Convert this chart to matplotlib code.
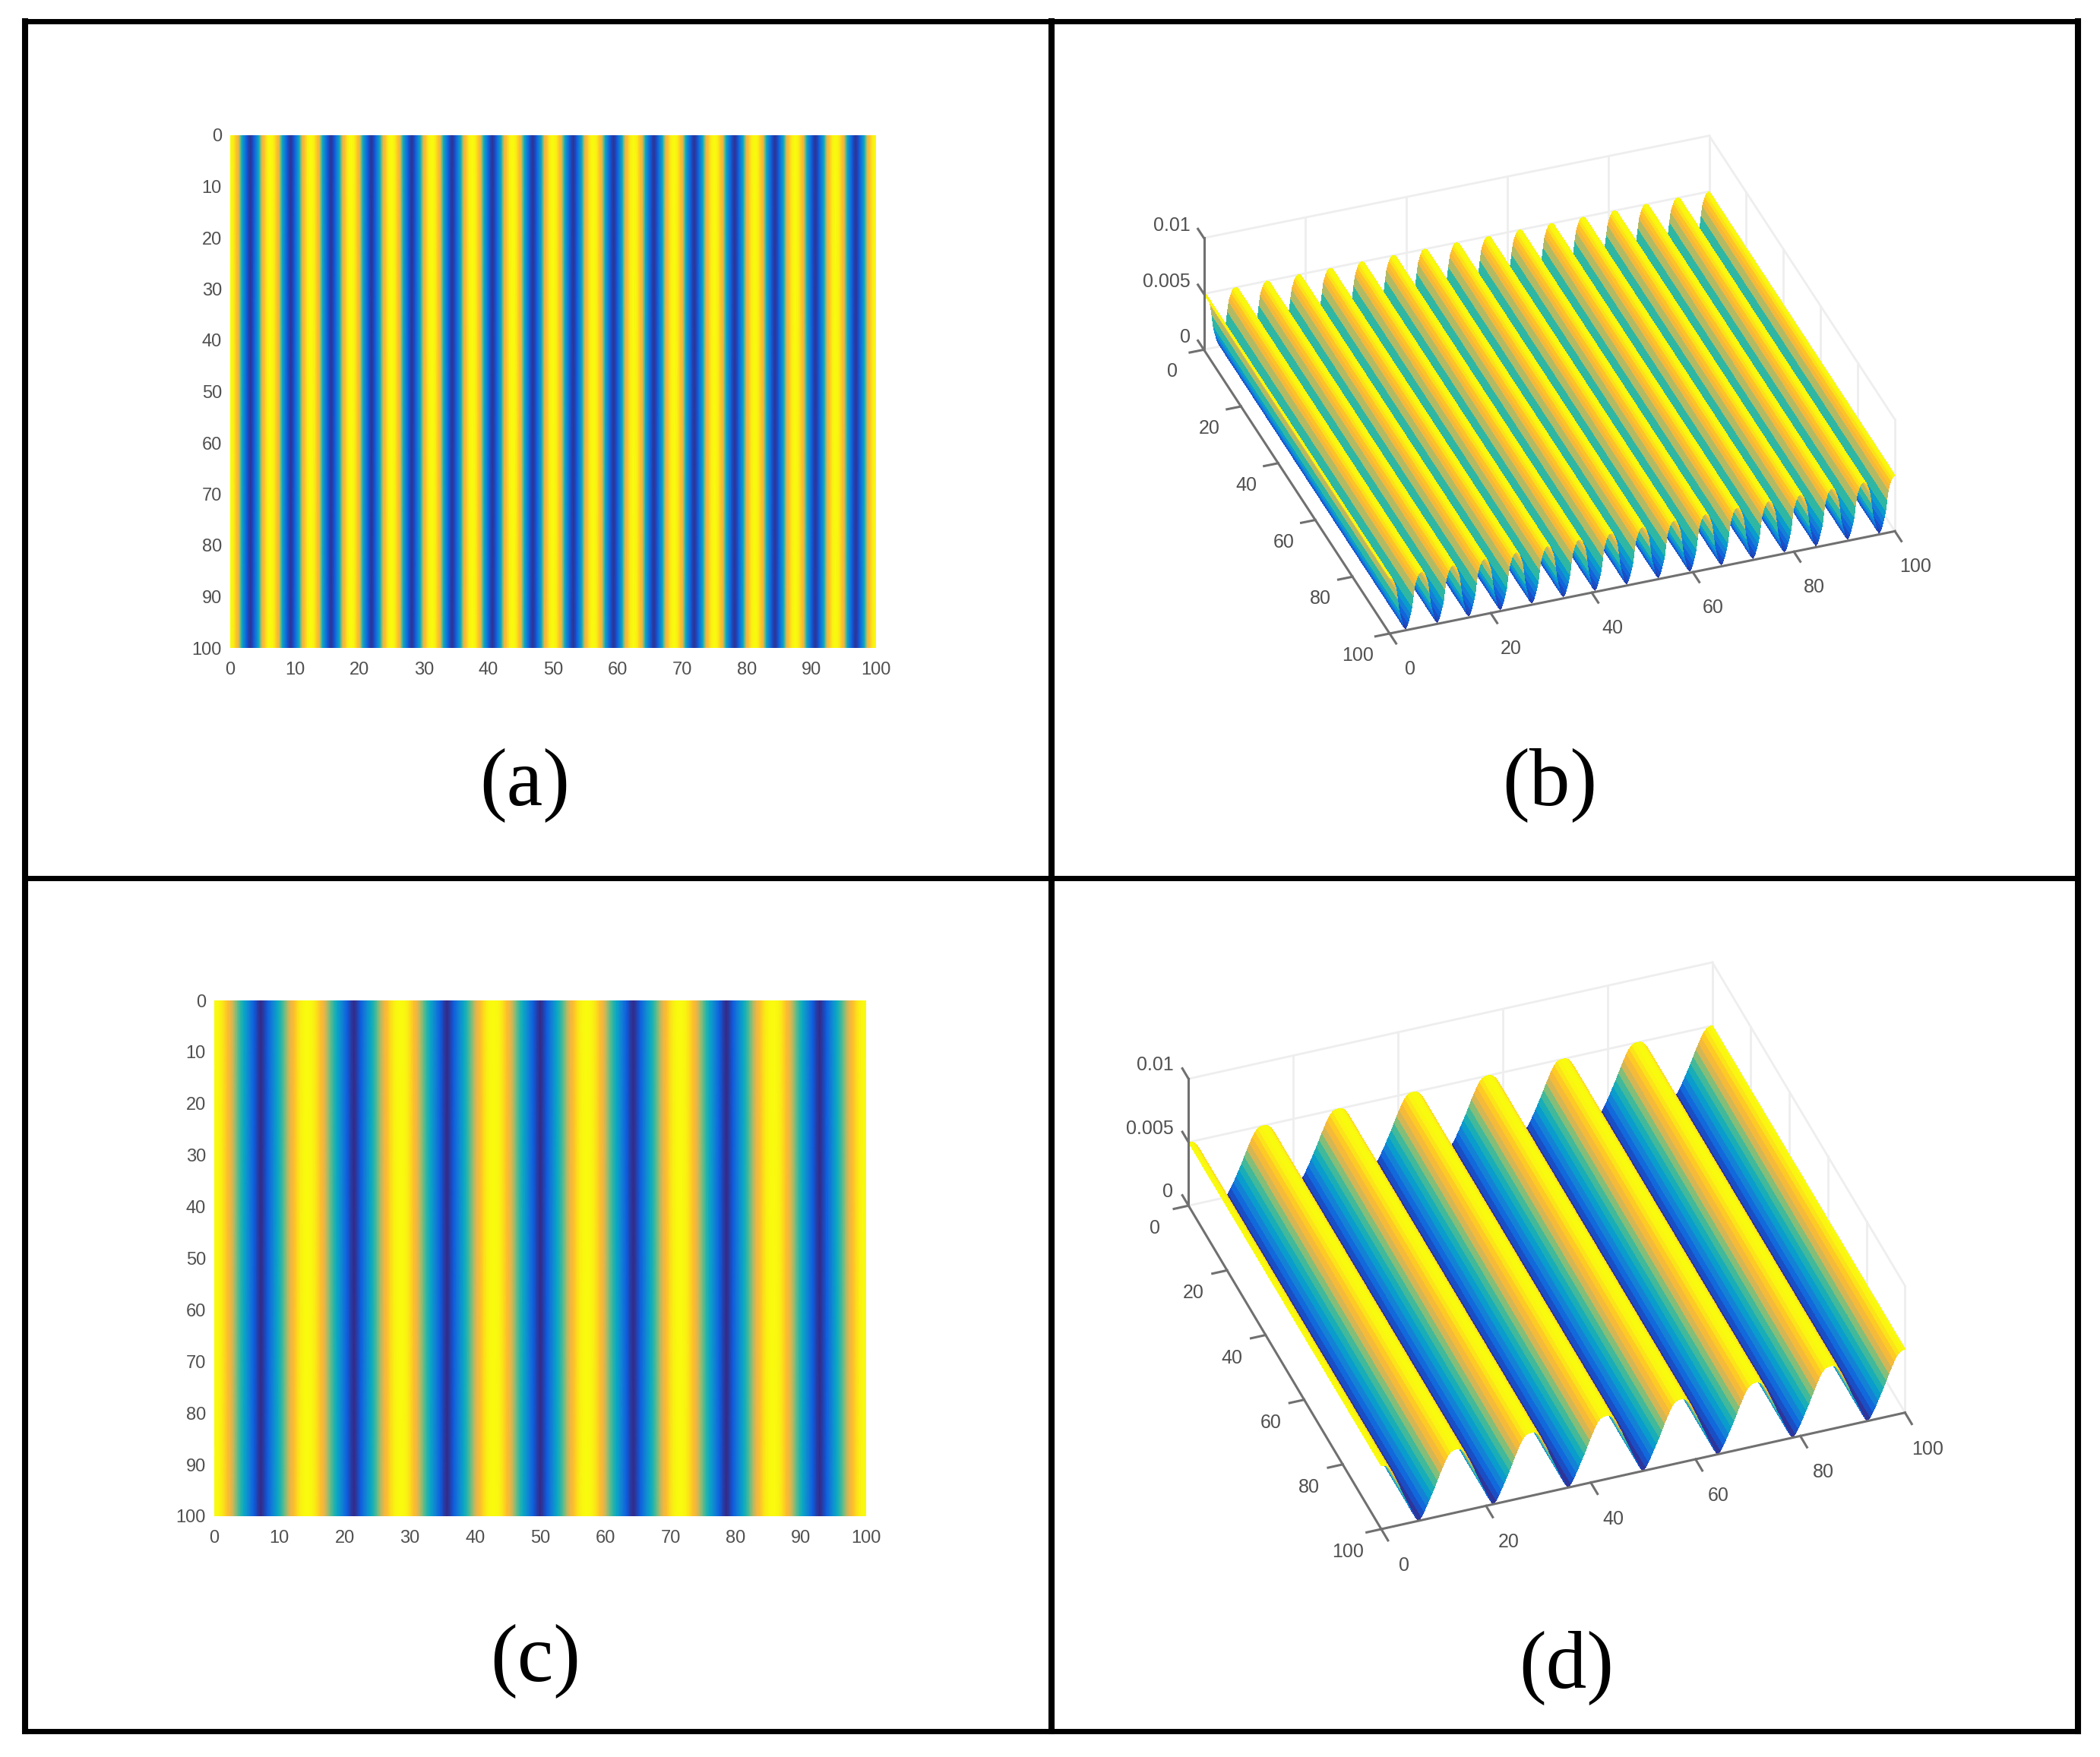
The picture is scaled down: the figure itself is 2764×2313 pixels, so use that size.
import numpy as np
import matplotlib
matplotlib.use("Agg")
import matplotlib.pyplot as plt
from matplotlib.colors import LinearSegmentedColormap
from matplotlib.lines import Line2D
from mpl_toolkits.mplot3d import proj3d

W, H = 2764, 2313
plt.rcParams['font.family'] = ['Liberation Sans', 'DejaVu Sans']

# one fringe period, crest to crest, heights in units of 0.001
period_fine = [5.00, 4.95, 4.85, 4.60, 4.25, 3.85, 3.00, 2.00, 1.45, 1.00, 0.60, 0.30,
               0.15, 0.30, 0.60, 1.00, 1.45, 2.00, 3.00, 3.85, 4.25, 4.60, 4.85, 4.95]
period_coarse = [5.00, 4.98, 4.88, 4.65, 4.30, 3.85, 3.40, 2.90, 2.40, 1.95, 1.50, 1.05, 0.65, 0.28,
                 0.00, 0.28, 0.65, 1.05, 1.50, 1.95, 2.40, 2.90, 3.40, 3.85, 4.30, 4.65, 4.88, 4.98]
count_fine = 16
count_coarse = 7

row_fine = period_fine * count_fine + period_fine[:1]
row_coarse = period_coarse * count_coarse + period_coarse[:1]

y_rows = list(range(0, 101, 10))
flat_ticks = list(range(0, 101, 10))
box_ticks = [0, 20, 40, 60, 80, 100]
z_ticks = [0, 0.005, 0.01]
z_tick_labels = ['0', '0.005', '0.01']

parula = LinearSegmentedColormap.from_list('parula', [
    '#352a87', '#0f5cdd', '#1481d6', '#06a4ca', '#2eb7a4',
    '#7fbf7b', '#e9b44c', '#ffbf2a', '#f9fb0e'])

TEXT = '#505050'


def px_rect(x0, y0, x1, y1):
    return [x0 / W, 1 - y1 / H, (x1 - x0) / W, (y1 - y0) / H]


def xs_for(row):
    return np.linspace(0, 100, len(row))


def flat_panel(x0, y0, x1, y1, row):
    ax = fig.add_axes(px_rect(x0, y0, x1, y1))
    z = np.array([row, row]) * 1e-3
    ax.pcolormesh(xs_for(row), [0, 100], z, shading='gouraud', cmap=parula, vmin=0, vmax=0.005)
    ax.set_xlim(0, 100)
    ax.set_ylim(100, 0)
    ax.set_xticks(flat_ticks)
    ax.set_yticks(flat_ticks)
    ax.tick_params(axis='x', length=0, labelsize=17, labelcolor=TEXT, pad=13)
    ax.tick_params(axis='y', length=0, labelsize=17, labelcolor=TEXT, pad=8)
    for s in ax.spines.values():
        s.set_visible(False)
    return ax


def project(ax, x, y, z):
    px, py, _ = proj3d.proj_transform(x, y, z, ax.get_proj())
    return ax.transData.transform((px, py))


def tick_text(ax, x, y, z, s, off, ha='center'):
    p = project(ax, x, y, z)
    fig.text((p[0] + off[0]) / W, (p[1] - off[1]) / H, s, color=TEXT, fontsize=18,
             ha=ha, va='center')


def box_panel(row, aspect, elev, azim, front_left, front_right, xoff, yoff, zoff):
    # square axes so mplot3d keeps the rect; moved afterwards onto the reference corners
    size = 1500
    ax = fig.add_axes(px_rect(700, 400, 700 + size, 400 + size), projection='3d', proj_type='ortho')
    ax.computed_zorder = False
    ax.set_axis_off()
    ax.patch.set_alpha(0)
    ax.view_init(elev=elev, azim=azim)
    ax.set_xlim(0, 100, view_margin=0)
    ax.set_ylim(100, 0, view_margin=0)
    ax.set_zlim(0, 0.01, view_margin=0)

    ax.set_box_aspect(aspect, zoom=1)
    a = project(ax, 0, 100, 0)
    b = project(ax, 100, 100, 0)
    want = np.hypot(front_right[0] - front_left[0], front_right[1] - front_left[1])
    ax.set_box_aspect(aspect, zoom=want / np.hypot(*(b - a)))
    a = project(ax, 0, 100, 0)
    dx = front_left[0] - a[0]
    dy = (H - front_left[1]) - a[1]
    l, b0, w, h = ax.get_position().bounds
    ax.set_position([l + dx / W, b0 + dy / H, w, h])

    # walls
    grid = dict(color='#eeeeee', lw=2.0, zorder=1)
    for t in box_ticks:
        ax.plot([t, t], [0, 0], [0, 0.01], **grid)
        ax.plot([100, 100], [t, t], [0, 0.01], **grid)
    for t in z_ticks:
        ax.plot([0, 100], [0, 0], [t, t], **grid)
        ax.plot([100, 100], [0, 100], [t, t], **grid)

    X, Y = np.meshgrid(xs_for(row), y_rows)
    Z = np.tile(np.array(row) * 1e-3, (len(y_rows), 1))
    ax.plot_surface(X, Y, Z, cmap=parula, vmin=0, vmax=0.005, rstride=1, cstride=1,
                    linewidth=0, antialiased=False, shade=False, zorder=3)

    # axis lines, ticks, labels
    ln = dict(color='#707070', lw=2.2, zorder=5)
    ax.plot([0, 100], [100, 100], [0, 0], **ln)
    ax.plot([0, 0], [0, 100], [0, 0], **ln)
    ax.plot([0, 0], [0, 0], [0, 0.01], **ln)
    for t in box_ticks:
        ax.plot([t, t], [100, 103.5], [0, 0], **ln)
        ax.plot([0, -2.8], [t, t], [0, 0], **ln)
        tick_text(ax, t, 100, 0, str(t), xoff)
        tick_text(ax, 0, t, 0, str(t), yoff)
    for t, s in zip(z_ticks, z_tick_labels):
        ax.plot([0, 0], [0, -3.2], [t, t], **ln)
        tick_text(ax, 0, 0, t, s, zoff, ha='right')
    return ax


fig = plt.figure(figsize=(W / 100, H / 100), dpi=100, facecolor='white')

flat_panel(303, 178, 1153, 853, row_fine)
flat_panel(282, 1317, 1140, 1996, row_coarse)

box_panel(row_fine, (1, 1.01, 0.25), 33.8, -110, (1829, 834), (2494, 699),
          (27, 47), (-42, 29), (-18, -16))
box_panel(row_coarse, (1, 1.011, 0.2875), 37.66, -110, (1818, 2013), (2507, 1858),
          (30, 48), (-44, 30), (-20, -18))

# panel letters
for s, cx, cy in [('(a)', 691, 1034), ('(b)', 2040, 1034), ('(c)', 705, 2187), ('(d)', 2062, 2196)]:
    fig.text(cx / W, 1 - cy / H, s, family='Liberation Serif', fontsize=77, color='black',
             ha='center', va='center')

# table frame
frame = [((33, 28), (2735, 28), 5.0), ((33, 2279), (2735, 2279), 5.0), ((33, 28), (33, 2279), 5.8),
         ((2735, 28), (2735, 2279), 5.8), ((1384, 28), (1384, 2279), 5.8), ((33, 1156), (2735, 1156), 5.0)]
for (xa, ya), (xb, yb), lw in frame:
    fig.add_artist(Line2D([xa / W, xb / W], [1 - ya / H, 1 - yb / H], color='black', lw=lw,
                          solid_capstyle='projecting'))

fig.savefig('out.png', dpi=100)
